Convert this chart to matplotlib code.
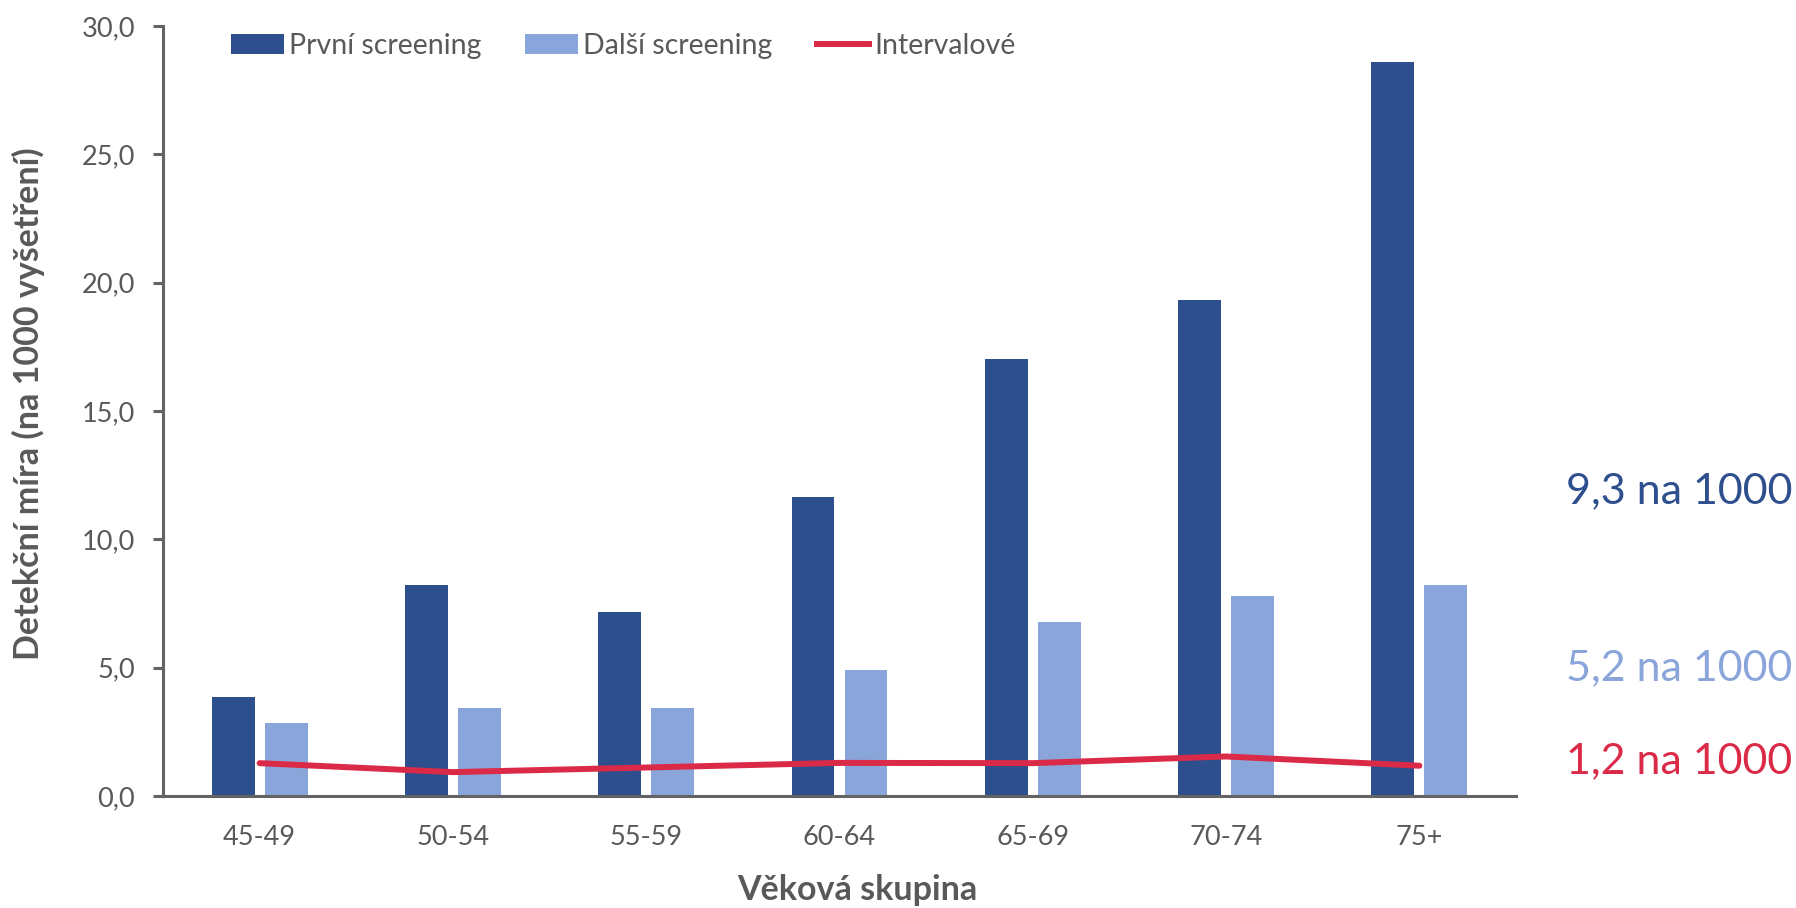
import matplotlib
matplotlib.use("Agg")
import matplotlib.pyplot as plt
from matplotlib.patches import Patch
from matplotlib.lines import Line2D
import numpy as np

categories = ["45-49", "50-54", "55-59", "60-64", "65-69", "70-74", "75+"]
prvni = [3.86, 8.22, 7.18, 11.64, 17.04, 19.33, 28.6]
dalsi = [2.84, 3.44, 3.44, 4.90, 6.78, 7.81, 8.22]
intervalove = [1.28, 0.93, 1.11, 1.29, 1.28, 1.54, 1.18]
yticks = [0, 5, 10, 15, 20, 25, 30]
ytick_labels = ["0,0", "5,0", "10,0", "15,0", "20,0", "25,0", "30,0"]
series_names = ["První screening", "Další screening", "Intervalové"]
summary_texts = ["9,3 na 1000", "5,2 na 1000", "1,2 na 1000"]

DARK = "#2E4F8E"
LIGHT = "#8AA5DA"
RED = "#DB2A48"
GRAY = "#595959"
AXC = "#636363"

plt.rcParams['font.family'] = ['Lato', 'DejaVu Sans']

fig = plt.figure(figsize=(17.96, 9.08), dpi=100)
ax = fig.add_axes([163/1796, 1-796/908, (1516-163)/1796, (796-26)/908])

x = np.arange(len(categories))
w = 0.222
off = 0.137
ax.bar(x - off, prvni, width=w, color=DARK, zorder=2)
ax.bar(x + off, dalsi, width=w, color=LIGHT, zorder=2)
ax.plot(x, intervalove, color=RED, lw=4.3, solid_capstyle='round', solid_joinstyle='round', zorder=3)

ax.set_xlim(-0.5, len(categories) - 0.5)
ax.set_ylim(0, 30)
ax.set_yticks(yticks)
ax.set_yticklabels(ytick_labels)
ax.set_xticks(x)
ax.set_xticklabels(categories)

for s in ['top', 'right']:
    ax.spines[s].set_visible(False)
for s in ['left', 'bottom']:
    ax.spines[s].set_color(AXC)
    ax.spines[s].set_linewidth(2.2)
ax.tick_params(axis='y', length=7, width=2.2, color=AXC, labelsize=19.5, labelcolor=GRAY, pad=13)
ax.tick_params(axis='x', length=0, labelsize=19.5, labelcolor=GRAY, pad=21)

fig.text(28/1796, 1-404/908, "Detekční míra (na 1000 vyšetření)", rotation=90,
         ha='center', va='center', fontsize=24.5, fontweight='bold', color=GRAY)
fig.text(857/1796, 1-890/908, "Věková skupina", ha='center', va='center',
         fontsize=24.5, fontweight='bold', color=GRAY)

handles = [Patch(facecolor=DARK), Patch(facecolor=LIGHT), Line2D([0], [0], color=RED, lw=4.3)]
leg = fig.legend(handles, series_names, loc='upper left', bbox_to_anchor=(231/1796, 1-33/908),
                 ncol=3, frameon=False, fontsize=20.5, handlelength=1.85, handleheight=0.65,
                 handletextpad=0.18, columnspacing=1.55, borderpad=0, borderaxespad=0)
for t in leg.get_texts():
    t.set_color(GRAY)

colors = [DARK, LIGHT, RED]
baselines = [503, 680, 773]
for txt, c, b in zip(summary_texts, colors, baselines):
    fig.text(1792/1796, 1-b/908, txt, ha='right', va='baseline', fontsize=31, color=c)

fig.savefig("out.png", dpi=100)
